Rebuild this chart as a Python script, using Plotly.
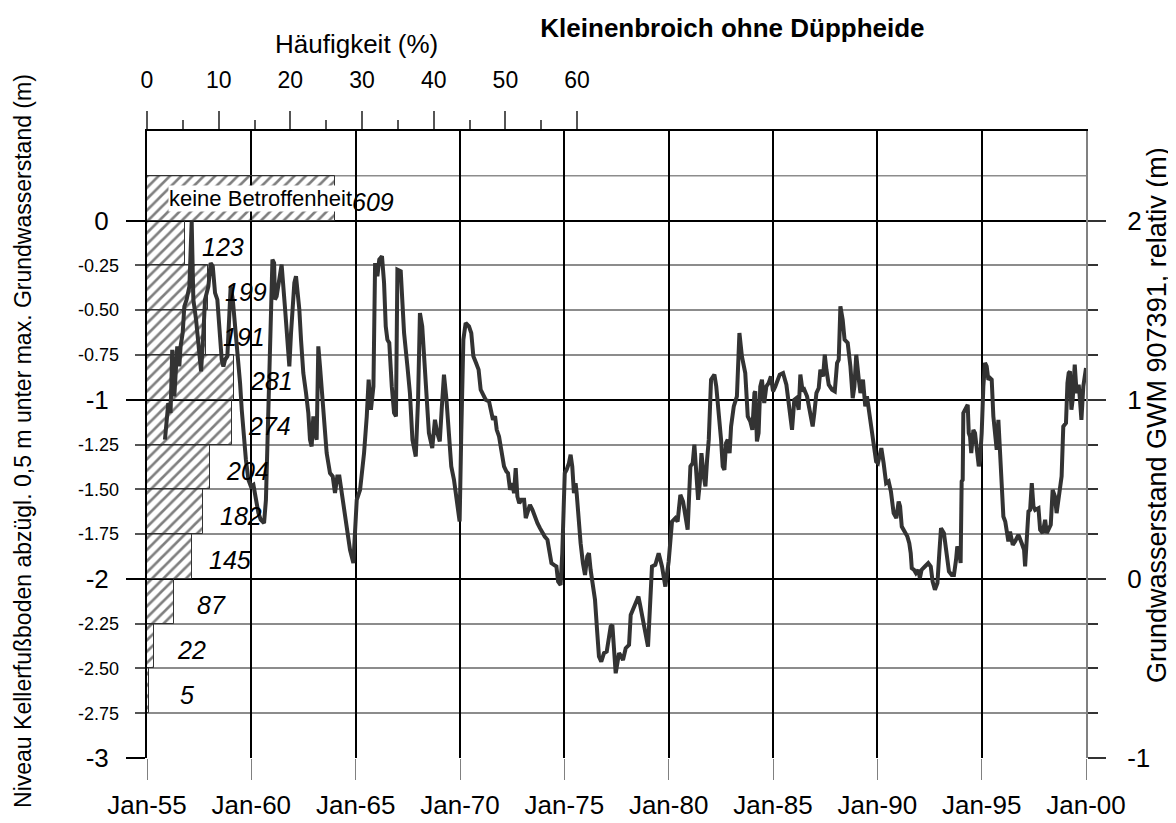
import numpy as np
import pandas as pd
import plotly.graph_objects as go

# ---------------- data ----------------
# frequency histogram (left axis bands, 0.25 m classes)
class_level = [0.125, -0.125, -0.375, -0.625, -0.875, -1.125, -1.375,
               -1.625, -1.875, -2.125, -2.375, -2.625]
class_count = [609, 123, 199, 191, 281, 274, 204, 182, 145, 87, 22, 5]

# groundwater level GWM 907391 (relative, m) - decimal year / value
gw_year = [
    1955.86, 1956.02, 1956.13, 1956.21, 1956.31, 1956.39, 1956.45, 1956.55, 1956.61, 1956.71,
    1956.79, 1956.90, 1957.03, 1957.14, 1957.22, 1957.35, 1957.46, 1957.59, 1957.70, 1957.78,
    1957.94, 1958.05, 1958.15, 1958.26, 1958.37, 1958.50, 1958.58, 1958.66, 1958.74, 1958.85,
    1958.95, 1959.01, 1959.11, 1959.22, 1959.33, 1959.46, 1959.54, 1959.65, 1959.74, 1959.86,
    1959.98, 1960.10, 1960.18, 1960.34, 1960.45, 1960.61, 1960.70, 1960.78, 1960.86, 1960.93,
    1961.01, 1961.09, 1961.13, 1961.21, 1961.45, 1961.62, 1961.69, 1961.82, 1961.90, 1961.98,
    1962.06, 1962.14, 1962.22, 1962.30, 1962.38, 1962.49, 1962.62, 1962.73, 1962.81, 1962.89,
    1962.97, 1963.05, 1963.13, 1963.21, 1963.29, 1963.37, 1963.48, 1963.61, 1963.77, 1963.90,
    1964.01, 1964.12, 1964.22, 1964.33, 1964.44, 1964.57, 1964.73, 1964.89, 1965.05, 1965.21,
    1965.40, 1965.53, 1965.62, 1965.73, 1965.85, 1965.93, 1966.04, 1966.13, 1966.26, 1966.36,
    1966.44, 1966.52, 1966.61, 1966.73, 1966.84, 1966.93,
    1967.00, 1967.16, 1967.32, 1967.48, 1967.60, 1967.72, 1967.88, 1967.99, 1968.08, 1968.19,
    1968.27, 1968.39, 1968.51, 1968.67, 1968.80, 1968.91, 1969.03, 1969.12, 1969.23, 1969.35,
    1969.47, 1969.58, 1969.71, 1969.82, 1969.98, 1970.06, 1970.16, 1970.27, 1970.43, 1970.54,
    1970.64, 1970.77, 1970.89, 1970.99, 1971.12, 1971.23, 1971.39, 1971.50, 1971.58, 1971.68,
    1971.76, 1971.87, 1971.98, 1972.11, 1972.22, 1972.30, 1972.40, 1972.51, 1972.59, 1972.67,
    1972.75, 1972.84, 1972.94, 1973.07, 1973.15, 1973.26, 1973.35, 1973.47, 1973.58, 1973.71,
    1973.83, 1973.95, 1974.06, 1974.19, 1974.30, 1974.38, 1974.50, 1974.62, 1974.70, 1974.82,
    1974.90, 1974.95, 1975.02, 1975.11, 1975.22, 1975.30, 1975.38, 1975.46, 1975.54, 1975.59,
    1975.67, 1975.78, 1975.89, 1975.99, 1976.10, 1976.18, 1976.26, 1976.37, 1976.47, 1976.58,
    1976.66, 1976.77, 1976.90, 1977.03, 1977.14, 1977.22, 1977.30, 1977.38, 1977.46, 1977.54,
    1977.62, 1977.73, 1977.81, 1977.94, 1978.10, 1978.18, 1978.31, 1978.42, 1978.55, 1978.63,
    1978.74, 1978.82, 1978.95, 1979.01,
    1979.20, 1979.36, 1979.52, 1979.68, 1979.84, 1980.00, 1980.16, 1980.32, 1980.43, 1980.56,
    1980.69, 1980.80, 1980.91, 1981.04, 1981.15, 1981.23, 1981.33, 1981.41, 1981.49, 1981.57,
    1981.68, 1981.76, 1981.84, 1981.92, 1982.03, 1982.19, 1982.28, 1982.40, 1982.51, 1982.59,
    1982.67, 1982.75, 1982.83, 1982.92, 1982.99, 1983.12, 1983.27, 1983.39, 1983.51, 1983.67,
    1983.79, 1983.91, 1984.01, 1984.11, 1984.15, 1984.23, 1984.31, 1984.39, 1984.47, 1984.58,
    1984.68, 1984.79, 1984.90, 1985.00, 1985.11, 1985.32, 1985.48, 1985.64, 1985.75, 1985.91,
    1986.02, 1986.12, 1986.23, 1986.31, 1986.42, 1986.50, 1986.63, 1986.76, 1986.90, 1986.98,
    1987.08, 1987.19, 1987.27, 1987.40, 1987.48, 1987.56, 1987.67, 1987.83, 1987.96, 1988.07,
    1988.15, 1988.23, 1988.34, 1988.43, 1988.58, 1988.71, 1988.82, 1988.90, 1988.99, 1989.11,
    1989.19, 1989.31, 1989.42, 1989.50, 1989.63, 1989.74, 1989.82, 1989.94, 1990.03, 1990.19,
    1990.30, 1990.42, 1990.54, 1990.65, 1990.78, 1990.91, 1991.02,
    1991.09, 1991.17, 1991.33, 1991.44, 1991.53, 1991.60, 1991.65, 1991.76, 1991.85, 1991.96,
    1992.04, 1992.12, 1992.28, 1992.44, 1992.56, 1992.65, 1992.76, 1992.88, 1992.97, 1993.05,
    1993.19, 1993.32, 1993.43, 1993.56, 1993.67, 1993.77, 1993.83, 1993.93, 1993.99, 1994.04,
    1994.09, 1994.12, 1994.25, 1994.33, 1994.38, 1994.44, 1994.50, 1994.60, 1994.68, 1994.76,
    1994.86, 1994.92, 1995.00, 1995.08, 1995.16, 1995.24, 1995.32, 1995.40, 1995.48, 1995.56,
    1995.64, 1995.72, 1995.80, 1995.88, 1995.96, 1996.04, 1996.13, 1996.28, 1996.36, 1996.49,
    1996.60, 1996.76, 1996.92, 1997.03, 1997.08, 1997.16, 1997.24, 1997.32, 1997.40, 1997.48,
    1997.56, 1997.72, 1997.80, 1997.92, 1998.04, 1998.12, 1998.19, 1998.31, 1998.40, 1998.51,
    1998.59, 1998.72, 1998.83, 1998.91, 1999.04, 1999.11, 1999.17, 1999.23, 1999.30, 1999.36,
    1999.46, 1999.55, 1999.65, 1999.71, 1999.78, 1999.87, 1999.95, 2000.00,
]
gw_level = [
    0.777, 0.981, 0.926, 1.279, 1.019, 1.168, 1.298, 1.186, 1.298, 1.372,
    1.521, 1.559, 1.633, 1.996, 1.559, 1.447, 1.335, 1.158, 1.372, 1.559,
    1.633, 1.763, 1.745, 1.596, 1.559, 1.335, 1.223, 1.186, 1.223, 1.242,
    1.503, 1.633, 1.559, 1.410, 1.298, 1.093, 0.944, 0.777, 0.665, 0.553,
    0.516, 0.525, 0.460, 0.367, 0.330, 0.311, 0.441, 0.814, 1.186, 1.559,
    1.782, 1.763, 1.559, 1.577, 1.754, 1.500, 1.372, 1.186, 1.372, 1.503,
    1.652, 1.689, 1.615, 1.503, 1.335, 1.149, 1.037, 0.926, 0.777, 0.739,
    0.907, 0.814, 0.777, 1.298, 1.186, 1.056, 0.926, 0.702, 0.590, 0.572,
    0.479, 0.572, 0.572, 0.479, 0.385, 0.292, 0.162, 0.088, 0.441, 0.497,
    0.702, 0.907, 1.112, 0.944, 1.074, 1.763, 1.689, 1.782, 1.801, 1.652,
    1.410, 1.335, 1.317, 1.074, 0.926, 0.907,
    1.726, 1.717, 1.372, 1.186, 1.037, 0.777, 0.683, 1.000, 1.484, 1.410,
    1.242, 1.000, 0.814, 0.730, 0.888, 0.814, 0.767, 0.944, 1.140, 1.000,
    0.777, 0.628, 0.553, 0.441, 0.320, 0.814, 1.335, 1.428, 1.410, 1.372,
    1.242, 1.205, 1.168, 1.056, 1.019, 1.000, 0.991, 0.926, 0.888, 0.907,
    0.832, 0.795, 0.702, 0.628, 0.600, 0.590, 0.497, 0.534, 0.479, 0.618,
    0.460, 0.423, 0.441, 0.441, 0.339, 0.376, 0.413, 0.385, 0.348, 0.311,
    0.283, 0.255, 0.236, 0.218, 0.143, 0.088, 0.078, 0.069, -0.015, -0.034,
    0.143, 0.404, 0.590, 0.609, 0.646, 0.693, 0.628, 0.479, 0.534, 0.479,
    0.348, 0.199, 0.088, 0.022, 0.125, 0.143, 0.050, -0.024, -0.117, -0.304,
    -0.434, -0.462, -0.415, -0.406, -0.304, -0.266, -0.257, -0.397, -0.527, -0.471,
    -0.415, -0.434, -0.453, -0.387, -0.369, -0.201, -0.164, -0.127, -0.099, -0.145,
    -0.210, -0.285, -0.359, -0.378,
    0.069, 0.078, 0.143, 0.069, -0.043, 0.097, 0.320, 0.339, 0.320, 0.469,
    0.432, 0.348, 0.274, 0.628, 0.646, 0.749, 0.590, 0.441, 0.534, 0.702,
    0.572, 0.516, 0.665, 0.777, 1.112, 1.140, 1.074, 0.926, 0.777, 0.628,
    0.609, 0.758, 0.777, 0.702, 0.851, 0.963, 1.019, 1.372, 1.242, 1.149,
    0.907, 0.879, 0.832, 1.037, 1.047, 0.767, 0.814, 1.074, 1.112, 0.981,
    1.074, 1.093, 1.130, 1.047, 1.074, 1.140, 1.149, 1.084, 0.963, 0.832,
    1.000, 1.009, 0.944, 1.140, 1.047, 1.056, 1.019, 0.926, 0.851, 0.926,
    1.037, 1.065, 1.168, 1.130, 1.251, 1.168, 1.084, 1.056, 1.047, 1.205,
    1.223, 1.521, 1.447, 1.335, 1.317, 1.186, 1.009, 1.074, 1.251, 1.112,
    1.037, 1.112, 0.963, 1.019, 0.907, 0.832, 0.758, 0.655, 0.646, 0.730,
    0.646, 0.534, 0.544, 0.488, 0.367, 0.339, 0.432,
    0.404, 0.292, 0.264, 0.236, 0.199, 0.143, 0.060, 0.050, 0.032, 0.050,
    0.004, 0.050, 0.069, 0.088, 0.069, -0.015, -0.061, -0.024, 0.143, 0.283,
    0.255, 0.143, 0.041, 0.022, 0.022, 0.106, 0.181, 0.143, 0.088, 0.544,
    0.553, 0.926, 0.953, 0.972, 0.814, 0.795, 0.702, 0.832, 0.814, 0.702,
    0.628, 0.665, 0.814, 1.074, 1.205, 1.186, 1.112, 1.121, 1.112, 0.907,
    0.814, 0.721, 0.888, 0.721, 0.534, 0.348, 0.320, 0.209, 0.264, 0.190,
    0.209, 0.246, 0.199, 0.162, 0.069, 0.255, 0.376, 0.385, 0.534, 0.404,
    0.385, 0.395, 0.274, 0.255, 0.330, 0.255, 0.274, 0.302, 0.497, 0.460,
    0.367, 0.479, 0.572, 0.851, 0.870, 1.093, 1.149, 1.158, 0.944, 1.000,
    1.196, 1.037, 1.084, 1.000, 0.888, 1.074, 1.158, 1.177,
]

left_major_ticks = [0, -1, -2, -3]
left_minor_ticks = [-0.25, -0.5, -0.75, -1.25, -1.5, -1.75, -2.25, -2.5, -2.75]
left_minor_text = ["-0.25", "-0.50", "-0.75", "-1.25", "-1.50", "-1.75",
                   "-2.25", "-2.50", "-2.75"]
right_major_ticks = [2, 1, 0, -1]
right_minor_ticks = [1.75, 1.5, 1.25, 0.75, 0.5, 0.25, -0.25, -0.5, -0.75]
pct_ticks = [0, 10, 20, 30, 40, 50, 60]
pct_minor = [5, 15, 25, 35, 45, 55]
date_ticks = ["1955-01-01", "1960-01-01", "1965-01-01", "1970-01-01", "1975-01-01",
              "1980-01-01", "1985-01-01", "1990-01-01", "1995-01-01", "2000-01-01"]

# ---------------- derived ----------------
total = sum(class_count)
class_pct = [c / total * 100 for c in class_count]


def dec_to_date(y):
    yr = int(np.floor(y))
    d = pd.Timestamp(yr, 1, 1) + pd.Timedelta(days=(y - yr) * 365.25)
    return d.strftime("%Y-%m-%d %H:%M")


gw_dates = [dec_to_date(y) for y in gw_year]

FONT = "Liberation Sans, Arial, sans-serif"

fig = go.Figure()

# histogram bars (main subplot: top % axis + left axis)
fig.add_trace(go.Bar(
    x=class_pct, y=class_level, orientation="h", width=0.25,
    xaxis="x", yaxis="y",
    marker=dict(color="rgba(0,0,0,0)", line=dict(color="#333", width=1),
                pattern=dict(shape="/", fgcolor="black", bgcolor="rgba(0,0,0,0)",
                             size=8, solidity=0.33)),
    showlegend=False, hoverinfo="skip",
))

# empty helper trace so that the quarter-label axis is drawn
fig.add_trace(go.Scatter(x=[], y=[], xaxis="x", yaxis="y3", showlegend=False))

# groundwater hydrograph (date axis + right axis)
fig.add_trace(go.Scatter(
    x=gw_dates, y=gw_level, xaxis="x2", yaxis="y2", mode="lines",
    line=dict(color="#333333", width=4), showlegend=False,
))

annotations = []
annotations.append(dict(
    x=2.9, y=class_level[0], xref="x", yref="y", xanchor="left", yanchor="middle",
    text="keine Betroffenheit", showarrow=False, bgcolor="white", borderpad=0,
    font=dict(family=FONT, size=22, color="black"),
))
for lvl, pct, cnt in zip(class_level, class_pct, class_count):
    annotations.append(dict(
        x=pct, y=lvl, xref="x", yref="y", xanchor="center", yanchor="middle",
        xshift=38, yshift=-4, text=f"<i>{cnt}</i>", showarrow=False,
        font=dict(family=FONT, size=25, color="black"),
    ))
annotations.append(dict(
    x=0.2226, y=1.1388, xref="paper", yref="paper", xanchor="center", yanchor="middle",
    text="Häufigkeit (%)", showarrow=False, font=dict(family=FONT, size=26, color="black"),
))
annotations.append(dict(
    x=-0.1321, y=0.5056, xref="paper", yref="paper", xanchor="center", yanchor="middle",
    textangle=-90, showarrow=False,
    text="Niveau Kellerfußboden abzügl. 0,5 m unter max. Grundwasserstand (m)",
    font=dict(family=FONT, size=23, color="black"),
))
annotations.append(dict(
    x=1.0756, y=0.547, xref="paper", yref="paper", xanchor="center", yanchor="middle",
    textangle=-90, showarrow=False,
    text="Grundwasserstand GWM 907391, relativ (m)",
    font=dict(family=FONT, size=27, color="black"),
))

fig.update_layout(
    # the page body adds an 8 px offset, so the figure is 8 px smaller
    width=1168, height=815,
    margin=dict(l=139, r=90, t=123, b=65, autoexpand=False),
    paper_bgcolor="white", plot_bgcolor="white",
    font=dict(family=FONT, color="black"),
    title=dict(text="<b>Kleinenbroich ohne Düppheide</b>", x=0.6235, xanchor="center",
               xref="paper", y=0.9755, yref="container", yanchor="middle",
               font=dict(family=FONT, size=26, color="black")),
    bargap=0,
    xaxis=dict(
        side="top", anchor="y", range=[0, 131],
        tickmode="array", tickvals=pct_ticks,
        ticks="outside", ticklen=18, tickcolor="#555", tickwidth=1.5,
        minor=dict(tickmode="array", tickvals=pct_minor, ticks="outside",
                   ticklen=9, tickcolor="#555", tickwidth=1.5, showgrid=False),
        showgrid=False, zeroline=False,
        showline=True, linecolor="black", linewidth=1.5,
        tickfont=dict(family=FONT, size=23, color="black"),
        ticklabelstandoff=14, automargin=False,
    ),
    xaxis2=dict(
        overlaying="x", side="bottom", anchor="y",
        type="date", range=["1955-01-01", "2000-01-01"],
        tickmode="array", tickvals=date_ticks, tickformat="%b-%y",
        ticks="outside", ticklen=21, tickcolor="#808080", tickwidth=1,
        showgrid=True, gridcolor="black", gridwidth=2,
        showline=False, zeroline=False,
        tickfont=dict(family=FONT, size=26, color="black"),
        ticklabelstandoff=3, automargin=False,
    ),
    yaxis=dict(
        range=[-3, 0.5], side="left", anchor="x",
        tickmode="array", tickvals=left_major_ticks,
        ticktext=[str(v) for v in left_major_ticks],
        ticks="outside", ticklen=19, tickcolor="black", tickwidth=1.5,
        showgrid=True, gridcolor="black", gridwidth=2,
        minor=dict(tickmode="array", tickvals=left_minor_ticks, ticks="outside",
                   ticklen=10, tickcolor="#555", tickwidth=1.5,
                   showgrid=True, gridcolor="#8c8c8c", gridwidth=1.5),
        showline=True, linecolor="black", linewidth=2,
        zeroline=False,
        tickfont=dict(family=FONT, size=26, color="black"),
        ticklabelstandoff=12, automargin=False,
    ),
    yaxis3=dict(
        range=[-3, 0.5], side="left", anchor="x", overlaying="y",
        tickmode="array", tickvals=left_minor_ticks, ticktext=left_minor_text,
        ticks="", showgrid=False, zeroline=False, showline=False,
        tickfont=dict(family=FONT, size=18, color="black"),
        ticklabelstandoff=27, automargin=False,
    ),
    yaxis2=dict(
        range=[-1, 2.5], side="right", anchor="x", overlaying="y",
        tickmode="array", tickvals=right_major_ticks,
        ticktext=[str(v) for v in right_major_ticks],
        ticks="outside", ticklen=18, tickcolor="#333", tickwidth=1.5,
        minor=dict(tickmode="array", tickvals=right_minor_ticks, ticks="outside",
                   ticklen=10, tickcolor="#333", tickwidth=1.5, showgrid=False),
        showgrid=False, zeroline=False,
        showline=True, linecolor="#808080", linewidth=2,
        tickfont=dict(family=FONT, size=26, color="black"),
        ticklabelstandoff=16, automargin=False,
    ),
    shapes=[dict(type="line", xref="paper", x0=0, x1=1, yref="y", y0=0.25, y1=0.25,
                 line=dict(color="#8c8c8c", width=1.5), layer="below")],
    annotations=annotations,
)

fig.write_html("out.html")
